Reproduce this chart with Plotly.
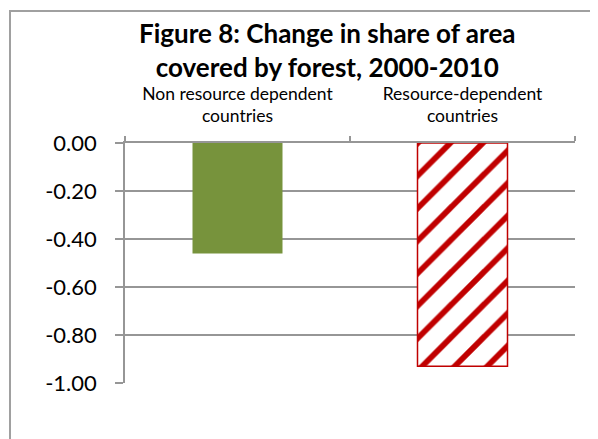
import plotly.graph_objects as go

categories = ["Non resource dependent<br>countries", "Resource-dependent<br>countries"]
values = [-0.46, -0.93]
y_tickvals = [0, -0.2, -0.4, -0.6, -0.8, -1.0]
y_ticktext = ["0.00", "-0.20", "-0.40", "-0.60", "-0.80", "-1.00"]
title_text = "Figure 8: Change in share of area<br>covered by forest, 2000-2010"

GRID = "#969696"
FONT = "Lato"
GREEN = "#77933C"
RED = "#C00000"

# page body has an 8px margin; compensate so the plot area lands at x 125-575, y 143-383
OFF = 8
L, T, PW, PH = 125 - OFF, 143 - OFF, 450, 240

fig = go.Figure()
# Non resource dependent: solid green
fig.add_trace(go.Bar(
    x=[categories[0]], y=[values[0]], width=0.4,
    marker=dict(color=GREEN, line=dict(width=0)),
    name="Non resource dependent",
))
# Resource-dependent: red diagonal hatch
fig.add_trace(go.Bar(
    x=[categories[1]], y=[values[1]], width=0.4,
    marker=dict(
        color="#FFFFFF",
        line=dict(color=RED, width=1.5),
        pattern=dict(shape="/", fgcolor=RED, bgcolor="#FFFFFF",
                     size=23, solidity=0.25, fillmode="replace"),
    ),
    name="Resource-dependent",
))

fig.update_layout(
    width=598, height=439,
    margin=dict(l=L, r=598 - L - PW, t=T, b=439 - T - PH),
    paper_bgcolor="white", plot_bgcolor="white",
    showlegend=False,
    barmode="overlay",
    font=dict(family=FONT, color="#000000"),
    xaxis=dict(
        side="top", type="category", categoryorder="array", categoryarray=categories,
        automargin=False,
        showline=True, linecolor=GRID, linewidth=1.5,
        ticks="outside", tickson="boundaries", ticklen=5, tickcolor=GRID, tickwidth=1.5,
        tickfont=dict(family=FONT, size=17.5, color="#000000"),
        ticklabelstandoff=12,
        showgrid=False, zeroline=False,
    ),
    yaxis=dict(
        range=[-1.0, 0.0], automargin=False,
        tickvals=y_tickvals, ticktext=y_ticktext,
        showline=True, linecolor=GRID, linewidth=1.5,
        ticks="outside", ticklen=8, tickcolor=GRID, tickwidth=1.5,
        tickfont=dict(family=FONT, size=22, color="#000000"),
        ticklabelstandoff=14,
        showgrid=True, gridcolor=GRID, gridwidth=1.5,
        zeroline=False,
    ),
    annotations=[dict(
        text=title_text, showarrow=False,
        xref="paper", yref="paper",
        x=(327 - 125) / 450, y=(383 - 50) / 240,
        xanchor="center", yanchor="middle",
        font=dict(family=FONT, size=26, weight="bold", color="#000000"),
    )],
    shapes=[dict(
        type="rect", xref="paper", yref="paper",
        x0=(10 - 125) / 450, x1=(660 - 125) / 450,
        y0=(383 - 480) / 240, y1=(383 - 11) / 240,
        line=dict(color="#A0A0A0", width=2), fillcolor="rgba(0,0,0,0)", layer="below",
    )],
)

fig.write_html("out.html")
